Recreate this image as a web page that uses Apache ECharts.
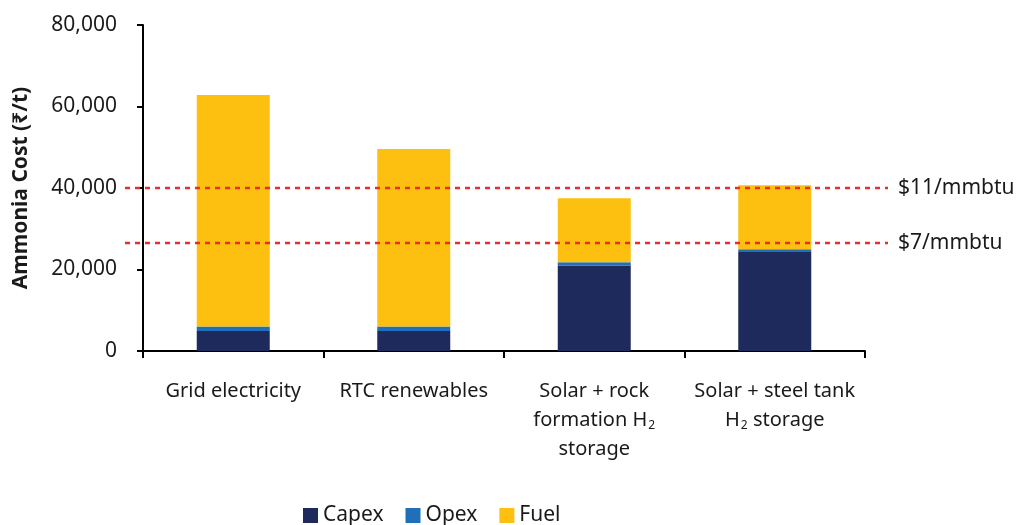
<!DOCTYPE html>
<html>
<head>
<meta charset="utf-8">
<script src="https://cdn.jsdelivr.net/npm/echarts@6/dist/echarts.min.js"></script>
<style>html,body{margin:0;padding:0;background:#fff}#c{width:1016px;height:525px}</style>
</head>
<body>
<div id="c"></div>
<script>
const categories = ['Grid electricity', 'RTC renewables', 'Solar + rock\nformation H₂\nstorage', 'Solar + steel tank\nH₂ storage'];
const capex = [4900, 4900, 20900, 24500];
const opex = [1100, 1100, 900, 500];
const fuel = [56800, 43600, 15700, 15700];
const gasLines = [
  { name: '$11/mmbtu', value: 40000 },
  { name: '$7/mmbtu', value: 26500 }
];
const yTicks = { min: 0, max: 80000, interval: 20000 };

const FONT = 'Noto Sans';
const chart = echarts.init(document.getElementById('c'), null, { renderer: 'canvas' });

const barSeries = [
  { name: 'Capex', data: capex, color: '#1f2a5c' },
  { name: 'Opex', data: opex, color: '#1f70b8' },
  { name: 'Fuel', data: fuel, color: '#fdc010' }
].map(s => ({
  name: s.name, type: 'bar', stack: 'cost', data: s.data, barWidth: 73,
  itemStyle: { color: s.color }, xAxisIndex: 0, yAxisIndex: 0, z: 2
}));

const lineSeries = gasLines.map(g => ({
  name: g.name, type: 'line', xAxisIndex: 1, yAxisIndex: 1,
  data: [[0, g.value], [1, g.value]], symbol: 'none', silent: true, z: 5,
  lineStyle: { color: '#ee2a2f', width: 2.5, type: [5, 5] },
  endLabel: { show: true, formatter: g.name, distance: 10, color: '#1a1a1a', fontSize: 21, fontFamily: FONT }
}));

chart.setOption({
  animation: false,
  textStyle: { fontFamily: FONT },
  grid: [
    { left: 143, right: 151, top: 25, bottom: 174 },
    { left: 125, right: 128, top: 25, bottom: 174 }
  ],
  legend: {
    data: ['Capex', 'Opex', 'Fuel'], left: 298, bottom: -6, itemWidth: 15, itemHeight: 15, itemGap: 22,
    icon: 'rect', textStyle: { fontSize: 21, color: '#1a1a1a', fontFamily: FONT }
  },
  xAxis: [
    {
      type: 'category', data: categories, gridIndex: 0,
      axisLine: { lineStyle: { color: '#000', width: 2 } },
      axisTick: { show: true, length: 7, lineStyle: { color: '#000', width: 2 } },
      axisLabel: {
        interval: 0, margin: 26, color: '#1a1a1a', fontSize: 20, lineHeight: 29, fontFamily: FONT,
        formatter: v => v.replace(/₂/g, '{sub|2}'),
        rich: { sub: { fontSize: 12, lineHeight: 14, padding: [11, 0, 0, 1], color: '#1a1a1a', fontFamily: FONT } }
      }
    },
    { type: 'value', gridIndex: 1, min: 0, max: 1, show: false }
  ],
  yAxis: [
    {
      type: 'value', gridIndex: 0, min: yTicks.min, max: yTicks.max, interval: yTicks.interval,
      name: 'Ammonia Cost (₹/t)', nameLocation: 'middle', nameGap: 111,
      nameTextStyle: { fontSize: 21, fontWeight: 'bold', color: '#1a1a1a', fontFamily: FONT },
      axisLine: { show: true, lineStyle: { color: '#000', width: 2 } },
      axisTick: { show: true, length: 6, lineStyle: { color: '#000', width: 2 } },
      axisLabel: { color: '#1a1a1a', fontSize: 21, margin: 26, fontFamily: FONT,
        formatter: v => v.toLocaleString('en-US') },
      splitLine: { show: false }
    },
    { type: 'value', gridIndex: 1, min: yTicks.min, max: yTicks.max, show: false }
  ],
  series: [...barSeries, ...lineSeries]
});
</script>
</body>
</html>
